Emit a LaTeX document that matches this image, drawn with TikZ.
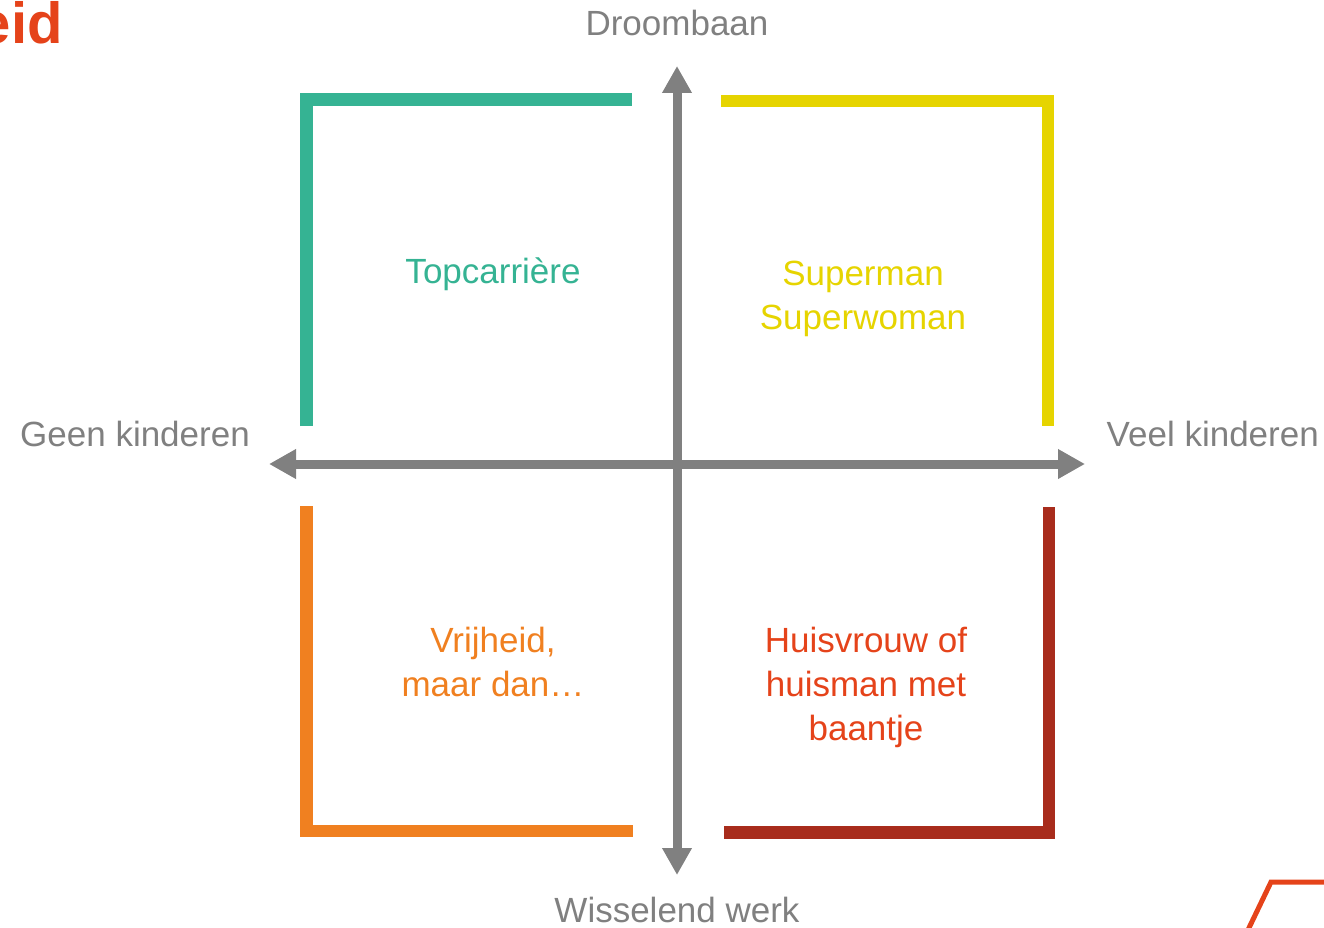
\documentclass[tikz,border=0pt]{standalone}
\usepackage{fontspec}
\setmainfont{Liberation Sans}
\usepackage{tikz}
\usetikzlibrary{arrows.meta}

\definecolor{axisgray}{HTML}{808080}
\definecolor{topgreen}{HTML}{35B393}
\definecolor{superyellow}{HTML}{E6D400}
\definecolor{freeorange}{HTML}{F08020}
\definecolor{homedarkred}{HTML}{A82C1C}
\definecolor{titlered}{HTML}{E5431A}

\begin{document}
\begin{tikzpicture}[x=1pt,y=-1pt,
    axis/.style={draw=axisgray,line width=9pt,
      {Triangle[width=28pt,length=27pt]}-{Triangle[width=28pt,length=27pt]}},
    corner/.style={line width=12.5pt},
    axislabel/.style={text=axisgray,font=\fontsize{35}{44}\selectfont,inner sep=0pt},
    quadrant/.style={font=\fontsize{35}{44}\selectfont,align=center,inner sep=0pt}]

    \useasboundingbox (0,0) rectangle (1324,928);

    % Title remainder and page corner
    \node[anchor=base east,text=titlered,font=\fontsize{58}{60}\selectfont\bfseries,inner sep=0pt] (title) at (63,44) {eid};
    \draw[titlered,line width=5pt] (1247,932) -- (1271,882) -- (1330,882);

    % Draw axes
    \coordinate (top) at (677,66);
    \coordinate (bottom) at (677,875);
    \coordinate (left) at (269,464);
    \coordinate (right) at (1085,464);
    \draw[axis] (bottom) -- (top);
    \draw[axis] (left) -- (right);

    % Axis labels
    \node[axislabel,anchor=base] (dream) at (677,36) {Droombaan};
    \node[axislabel,anchor=base] (varying) at (677,922) {Wisselend werk};
    \node[axislabel,anchor=base west] (nokids) at (20,446) {Geen kinderen};
    \node[axislabel,anchor=base east] (manykids) at (1319,446) {Veel kinderen};

    % Draw the corners
    \draw[corner,topgreen] (306.5,426) -- (306.5,99.5) -- (632,99.5);
    \draw[corner,superyellow] (721,101) -- (1048,101) -- (1048,426);
    \draw[corner,freeorange] (306.5,506) -- (306.5,831) -- (633,831);
    \draw[corner,homedarkred] (724,832.5) -- (1049,832.5) -- (1049,507);

    % Label the quadrants
    \node[quadrant,text=topgreen] (career) at (493,274) {Topcarrière};
    \node[quadrant,text=superyellow] (super) at (863,299) {Superman\\Superwoman};
    \node[quadrant,text=freeorange] (freedom) at (493,662) {Vrijheid,\\maar dan…};
    \node[quadrant,text=titlered] (housework) at (866,687) {Huisvrouw of\\huisman met\\baantje};
\end{tikzpicture}
\end{document}
